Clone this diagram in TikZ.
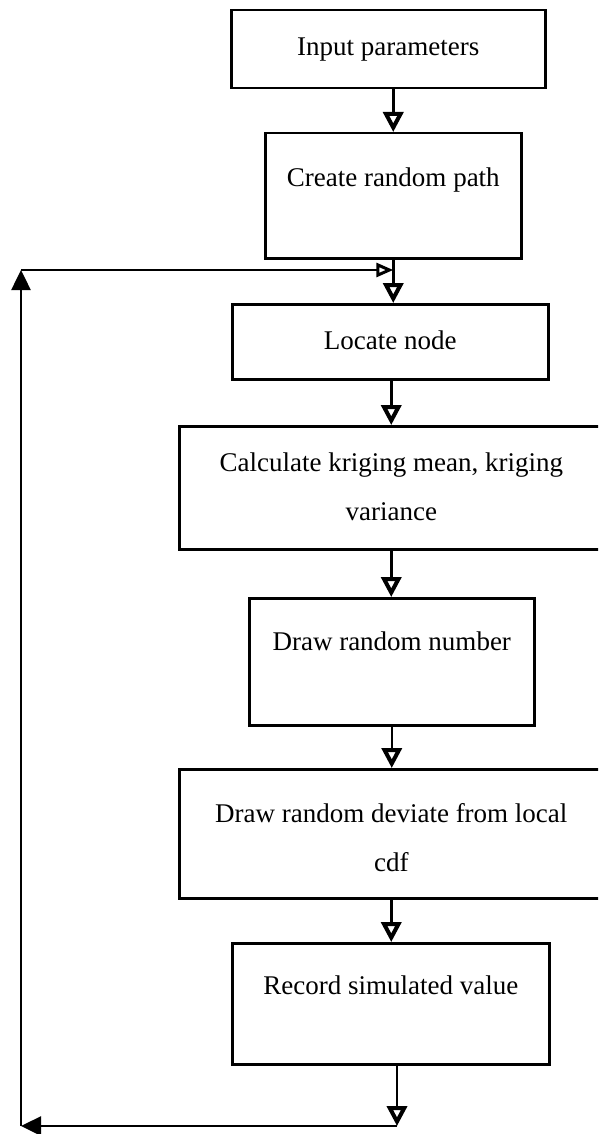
\documentclass[tikz,border=0pt]{standalone}
\usepackage{fontspec}
\setmainfont{Liberation Serif}
\usepackage{tikz}
\usetikzlibrary{arrows.meta}
\usetikzlibrary{positioning}

\tikzset{
    stage/.style={draw, line width=2.5pt, inner sep=0pt, anchor=north west,
        align=center, font=\fontsize{27}{49}\selectfont},
    flow/.style={line width=2.5pt, -{Triangle[open, length=20pt, width=20pt, line width=4pt]}},
    back/.style={line width=2.5pt, -{Triangle[length=20pt, width=19pt]}},
}

\begin{document}
\begin{tikzpicture}[x=1pt, y=-1pt]
    \useasboundingbox (0, 0) rectangle (598, 1134);
    \clip (0, 0) rectangle (598, 1134);

    \node [stage, minimum width=314pt, text height=45pt, text depth=33pt] (params) at (230, 9) {Input parameters};
    \node [stage, minimum width=256pt, text height=53pt, text depth=72pt] (path) at (264, 132) {Create random path};
    \node [stage, minimum width=316pt, text height=45pt, text depth=30pt] (locate) at (231, 303) {Locate node};
    \node [stage, minimum width=424pt, text height=94pt, text depth=29pt] (kriging) at (178, 425) {Calculate kriging mean, kriging\\variance};
    \node [stage, minimum width=285pt, text height=52pt, text depth=75pt] (number) at (248, 597) {Draw random number};
    \node [stage, minimum width=424pt, text height=102pt, text depth=27pt] (deviate) at (178, 768) {Draw random deviate from local\\cdf};
    \node [stage, minimum width=317pt, text height=51pt, text depth=70pt] (record) at (231, 942) {Record simulated value};

    \draw [flow] (params.south -| path.north) -- (path.north);
    \draw [flow] (path.south) -- (path.south |- locate.north);
    \draw [flow] (kriging.north |- locate.south) -- (kriging.north);
    \draw [flow] (kriging.south) -- (kriging.south |- number.north);
    \draw [flow] (number.south) -- (number.south |- deviate.north);
    \draw [flow] (deviate.south) -- (deviate.south |- record.north);

    % loop back to the next node
    \coordinate (loopbr) at (397, 1126);
    \coordinate (loopbl) at (21, 1126);
    \coordinate (looptl) at (21, 270);
    \coordinate (join) at (path.south |- looptl);
    \draw [flow] (record.south -| loopbr) -- (loopbr);
    \draw [back] (loopbr) -- (loopbl);
    \draw [back] (loopbl) -- (looptl);
    \draw [line width=2.5pt, -{Triangle[open, length=17pt, width=14pt, line width=3pt]}] (looptl) -- (join);
\end{tikzpicture}
\end{document}
